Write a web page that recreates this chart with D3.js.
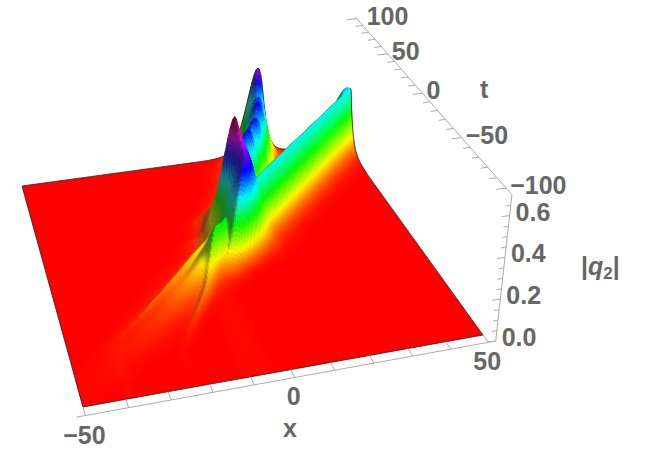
<!DOCTYPE html>
<html><head><meta charset="utf-8">
<script src="https://cdn.jsdelivr.net/npm/d3@7/dist/d3.min.js"></script>
<style>html,body{margin:0;background:#fff}svg{display:block}text{font-family:"Liberation Sans",Arial,sans-serif;font-weight:bold;fill:#666;font-size:25px}</style>
</head><body><svg id="c" width="654" height="457"></svg>
<script>
// ---- tick values
const xTicks = [-50,-40,-30,-20,-10,0,10,20,30,40,50];
const xLabels = [-50,0,50];
const tTicks = d3.range(-100,101,10);
const tLabels = [100,50,0,-50,-100];
const zTicks = [0,0.05,0.1,0.15,0.2,0.25,0.3,0.35,0.4,0.45,0.5,0.55,0.6,0.65];
const zLabels = [0,0.2,0.4,0.6];
// ---- surface: straight soliton
const mainT      = [-100,-80,-70,-60,-50,-40,-30,-20,-10,0,20,40,60,80,94,97,100];
const mainCenter = [-52,-41,-36,-31,-26,-21,-16,-11,-5.5,0,10,20,30,40,47,48.5,50];
const mainHeight = [0.002,0.005,0.008,0.014,0.022,0.035,0.06,0.1,0.19,0.27,0.3,0.3,0.3,0.3,0.3,0.33,0.31];
const mainWidth  = [8,8,8,7.5,7,7,6.5,6,5.8,5.8,5.8,5.8,5.8,5.8,5.8,5.8,5.8];
// ---- tall, rippled soliton
const tallT      = [-30,-25,-18,-12,-6,0,8,14,16,20,24,28,32,36,40,44,48,52,56,60,64,68,72,76,80,84,88,92,96,100];
const tallCenter = [-8,-6,-4,-2,-0.5,1,3,3,2,1,2,3,4,5,7,9,10,11,12.5,13.5,14,15,16,16.5,17,18,18.5,19,19.5,20];
const tallHeight = [0.004,0.02,0.07,0.16,0.29,0.4,0.46,0.48,0.53,0.61,0.55,0.44,0.40,0.38,0.38,0.42,0.36,0.34,0.41,0.40,0.34,0.36,0.43,0.38,0.37,0.40,0.37,0.35,0.38,0.49];
const tallWidth  = [4.5,4.5,4.5,5,5.2,5.5,5.5,5.5,4.5,3.4,3.6,4,4.5,4.5,4.5,4.5,4.5,4.5,4.5,4.5,4.5,4.5,4.5,4.5,4.5,4.5,4.5,4.5,4,3.6];
// ---- two faint streaks below the junction
const streakAT = [-60,-45,-35,-24,-10,5,15];
const streakAX = [-39,-31,-26,-20,-13,-6,-2];
const streakAH = [0.003,0.012,0.022,0.035,0.04,0.03,0];
const streakBT = [-75,-54,-44,-34,-20,0,12];
const streakBX = [-23,-18,-15,-12,-9,-6,-3];
const streakBH = [0.002,0.016,0.028,0.04,0.04,0.03,0];
const streakWidth = 1.3;
const zMax = 0.7;

// ---- camera
const uS = d3.scaleLinear().domain([-50,50]).range([0,1]);
const vS = d3.scaleLinear().domain([-100,100]).range([0,1]);
const zHueS = d3.scaleLinear().domain([0,0.62]).range([0,360]).clamp(true);
function project(x,t,z){
  const u=uS(x),v=vS(t);
  const W=0.0818*u+0.2775*v+1-0.0753*z;
  const X=439.5*u-54.9*v+83-2.26*z;
  const Y=-44.6*u-169.4*v+407-241*z;
  return [X/W,Y/W];
}
const depth=(x,t)=>0.0818*uS(x)+0.2775*vS(t)+1;

const tbl=(a,b)=>d3.scaleLinear().domain(a).range(b).clamp(true);
const sech2=v=>{const c=1/Math.cosh(v);return c*c;};
const mC=tbl(mainT,mainCenter),mH=tbl(mainT,mainHeight),mW=tbl(mainT,mainWidth);
const tC=tbl(tallT,tallCenter),tH=tbl(tallT,tallHeight),tW=tbl(tallT,tallWidth);
const aX=tbl(streakAT,streakAX),aH=tbl(streakAT,streakAH);
const bX=tbl(streakBT,streakBX),bH=tbl(streakBT,streakBH);
function height(x,t){
  const m=mH(t)*sech2((x-mC(t))/mW(t));
  const l=tH(t)*sech2((x-tC(t))/tW(t));
  const a=aH(t)*sech2((x-aX(t))/streakWidth);
  const b=bH(t)*sech2((x-bX(t))/streakWidth);
  return Math.max(m,l)+a+b;
}
function colour(x,t,z){
  const dx=height(x+0.5,t)-height(x-0.5,t);
  const dt=height(x,t+0.5)-height(x,t-0.5);
  let s=Math.min(0.55,Math.max(0,dx-0.006)*40);
  if(t>24) s+=Math.min(0.15,Math.max(0,-dt)*8);
  const top=z>0.5?(z-0.5)*4:0;
  return d3.hsl(zHueS(z),1-0.45*s,0.5*(1-0.75*s)*(1-top)).formatHex();
}
const svg=d3.select('#c');
const P=(pts)=>'M'+pts.map(p=>p[0].toFixed(2)+','+p[1].toFixed(2)).join('L')+'Z';
const L=(pts)=>'M'+pts.map(p=>p[0].toFixed(2)+','+p[1].toFixed(2)).join('L');

// base
svg.append('path').attr('d',P([project(-50,-100,0),project(50,-100,0),project(50,100,0),project(-50,100,0)])).attr('fill','#ff0000');

// quads
const items=[];
const dxg=0.5;
const xs=d3.range(-50,50,dxg), ts=d3.range(-100,100,1);
for(const t of ts)for(const x of xs){
  const z00=height(x,t),z10=height(x+dxg,t),z11=height(x+dxg,t+1),z01=height(x,t+1);
  const zc=(z00+z10+z11+z01)/4;
  if(Math.max(z00,z10,z11,z01)<0.002)continue;
  const c=colour(x+dxg/2,t+0.5,zc);
  items.push({w:depth(x+dxg/2,t+0.5),d:P([project(x,t,z00),project(x+dxg,t,z10),project(x+dxg,t+1,z11),project(x,t+1,z01)]),fill:c,stroke:c,sw:0.5});
}
for(const x of xs){
  items.push({w:depth(x+dxg/2,99.5)-0.002,d:L([project(x,100,height(x,100)),project(x+dxg,100,height(x+dxg,100))]),fill:'none',stroke:'#222',sw:0.8});
}
for(const t of ts){
  items.push({w:depth(49.5,t+0.5)-0.002,d:L([project(50,t,height(50,t)),project(50,t+1,height(50,t+1))]),fill:'none',stroke:'#222',sw:0.8});
}
items.sort((a,b)=>b.w-a.w);
svg.append('g').selectAll('path').data(items).join('path')
  .attr('d',d=>d.d).attr('fill',d=>d.fill).attr('stroke',d=>d.stroke).attr('stroke-width',d=>d.sw);
// front + left edges
svg.append('path').attr('d',L([project(-50,100,0),project(-50,-100,0),project(50,-100,0)])).attr('fill','none').attr('stroke','#222').attr('stroke-width',0.8);

// axes
const axis=svg.append('g').attr('stroke','#aaa').attr('stroke-width',1).attr('fill','none');
const tY=-106;
axis.append('path').attr('d',L([project(-52,tY,0),project(52,tY,0)]));
axis.selectAll('.xt').data(xTicks).join('path').attr('class','xt').attr('d',d=>L([project(d,tY,0),project(d,tY+6,0)]));
const tx=50;
axis.append('path').attr('d',L([project(tx,tY,zMax),project(tx,102,zMax)]));
axis.selectAll('.tt').data(tTicks).join('path').attr('class','tt').attr('d',d=>{const p=project(tx,d,zMax);return L([p,[p[0]-(d%50===0?10:7),p[1]+1]]);});
const zA=project(52,tY,0),zB=project(tx,tY,zMax);
const zX=d3.scaleLinear().domain([0,zMax]).range([zA[0],zB[0]]);
const zY=d3.scaleLinear().domain([0,zMax]).range([zA[1],zB[1]]);
axis.append('path').attr('d',L([[zX(0),zY(0)],[zX(zMax),zY(zMax)]]));
axis.selectAll('.zt').data(zTicks).join('path').attr('class','zt').attr('d',d=>{
  const major=Math.abs(d*5-Math.round(d*5))<1e-6;
  return L([[zX(d),zY(d)],[zX(d)-(major?8:5),zY(d)+1]]);});

// labels
const fmt=v=>String(v).replace('-','\u2212');
const lab=svg.append('g');
lab.selectAll('.xl').data(xLabels).join('text').attr('class','xl').attr('text-anchor','middle')
  .attr('x',d=>project(d,tY,0)[0]-1).attr('y',d=>project(d,tY,0)[1]+28).text(fmt);
lab.selectAll('.tl').data(tLabels).join('text').attr('class','tl')
  .attr('x',d=>project(tx,d,zMax)[0]+(d===100?10:4)).attr('y',d=>project(tx,d,zMax)[1]+6).text(fmt);
lab.selectAll('.zl').data(zLabels).join('text').attr('class','zl')
  .attr('x',d=>zX(d)+6).attr('y',d=>zY(d)+5).text(d=>d.toFixed(1));
lab.append('text').attr('x',480).attr('y',98).text('t');
lab.append('text').attr('x',283).attr('y',437).text('x');
const q=lab.append('text').attr('x',581).attr('y',275);
q.append('tspan').text('|');
q.append('tspan').attr('font-style','italic').text('q');
q.append('tspan').attr('font-size','17px').attr('dy',4).text('2');
q.append('tspan').attr('dy',-4).text('|');
</script></body></html>
